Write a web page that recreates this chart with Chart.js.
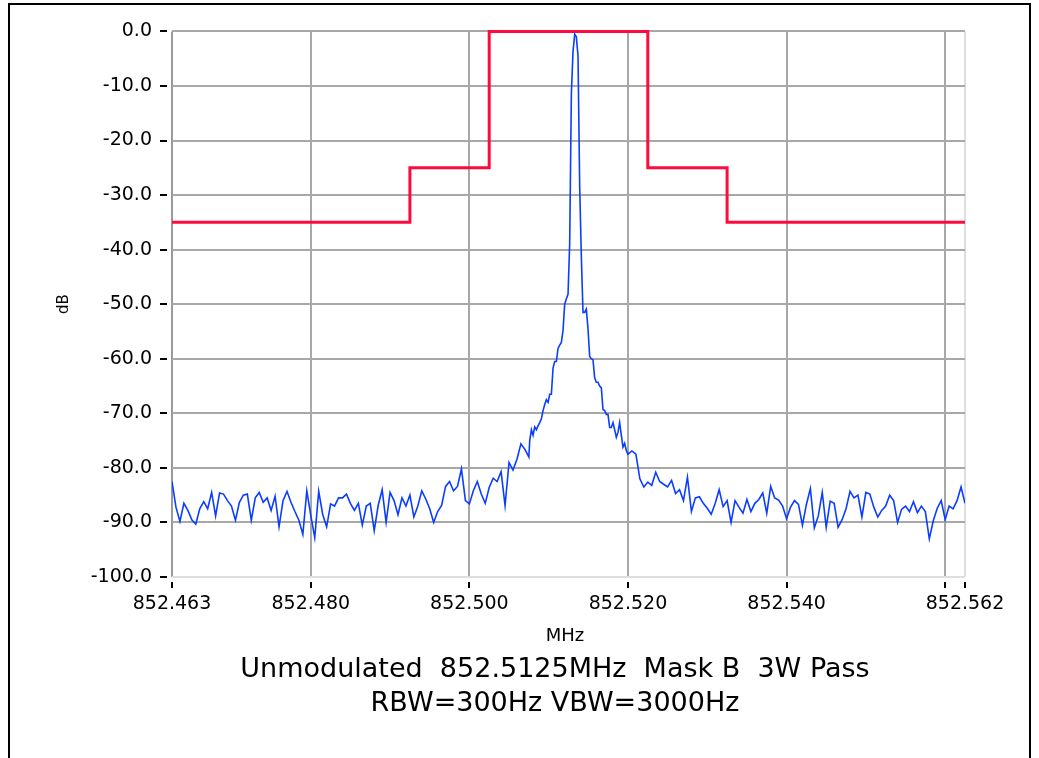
<!DOCTYPE html>
<html lang="en">
<head>
  <meta charset="utf-8">
  <script src="https://cdn.jsdelivr.net/npm/chart.js@4.4.0/dist/chart.umd.min.js"></script>
  <style>
    body {
      margin: 0;
      background: #fff;
      overflow: hidden;
    }
    #frame {
      position: absolute;
      left: 8px;
      top: 3px;
      width: 1019px;
      height: 800px;
      border: 2px solid #000;
    }
    #chart {
      position: absolute;
      left: 0;
      top: 0;
    }
  </style>
</head>
<body>
  <div id="frame"></div>
  <canvas id="chart" width="1039" height="758"></canvas>

  <script>
    const lowBandStart = 852.4625;   // MHz
    const lowBandStep = 0.0005;
    const lowBandDb = [
      -82.5, -87.2, -89.8, -86.5, -87.8, -89.5, -90.3, -87.5, -86.2, -87.5,
      -84.5, -88.8, -84.6, -84.8, -86.0, -87.0, -89.6, -86.3, -85.0, -84.8,
      -89.6, -85.5, -84.5, -86.3, -85.5, -87.8, -85.2, -90.8, -86.0, -84.3,
      -86.3, -88.0, -89.6, -92.2, -84.2, -88.7, -92.8, -84.3, -88.5, -90.8,
      -86.6, -87.0, -85.5, -85.5, -84.8, -86.5, -87.8, -86.5, -90.5, -87.0,
      -86.5, -91.5, -86.9, -84.0, -90.0, -84.5, -86.0, -88.6, -85.5, -87.0,
      -85.0, -89.0, -87.0, -84.2, -85.7, -87.5, -90.0, -88.0, -86.9, -83.4,
      -82.5, -84.2, -83.4, -80.2, -86.0, -86.6, -84.2, -82.5, -84.8, -86.5,
      -83.6, -81.9, -82.5, -80.7, -86.9, -79.0, -80.4, -78.4, -75.6, -76.6,
      -78.0
    ];

    const peakBandStart = 852.50761;
    const peakBandStep = 0.00021;
    const peakBandDb = [
      -75.0, -73.0, -74.0, -72.5, -73.0, -72.3, -71.7, -71.0, -69.5, -68.4,
      -67.5, -68.0, -66.5, -66.5, -61.7, -60.5, -60.5, -58.1, -57.5, -57.0,
      -54.8, -50.0, -49.0, -48.2, -38.9, -11.5, -3.7, -0.5, -1.0, -4.5,
      -28.3, -41.3, -51.5, -51.5, -50.9, -54.5, -59.6, -60.0, -60.2, -63.5,
      -64.3, -64.3, -65.0, -65.3, -69.3, -69.5, -70.2, -70.2, -72.6, -72.6,
      -71.7, -73.0, -74.4, -73.5, -71.7, -74.0, -76.2, -75.5, -76.8, -77.5
    ];

    const highBandStart = 852.5205;
    const highBandStep = 0.0005;
    const highBandDb = [
      -76.9, -77.5, -82.0, -83.5, -82.6, -83.2, -80.8, -82.5, -83.0, -83.5,
      -82.3, -84.7, -84.0, -86.0, -81.7, -88.0, -85.5, -85.3, -86.5, -87.4,
      -88.5, -86.5, -84.0, -87.1, -86.0, -90.0, -86.0, -87.2, -88.3, -85.8,
      -88.0, -86.5, -85.8, -84.6, -88.3, -83.4, -85.5, -85.9, -87.0, -89.3,
      -87.2, -86.0, -86.7, -90.5, -86.7, -83.8, -91.0, -88.8, -84.5, -90.9,
      -86.1, -86.5, -90.9, -89.5, -87.5, -84.3, -85.5, -85.0, -89.0, -84.5,
      -84.8, -87.2, -89.0, -87.8, -87.0, -85.0, -86.0, -90.0, -87.6, -87.0,
      -88.0, -86.2, -88.2, -87.0, -88.0, -93.0, -89.7, -87.4, -86.0, -89.5,
      -87.0, -87.5, -86.0, -83.5, -86.5
    ];

    // emission mask B
    const maskMHz = [852.4625, 852.4925, 852.4925, 852.5025, 852.5025, 852.5225, 852.5225, 852.5325, 852.5325, 852.5625];
    const maskDb = [-35, -35, -25, -25, 0, 0, -25, -25, -35, -35];

    // axes
    const xTickMHz = [852.4625, 852.48, 852.50, 852.52, 852.54, 852.56, 852.5625];
    const xTickLabels = ['852.463', '852.480', '852.500', '852.520', '852.540', '', '852.562'];
    const xTitle = 'MHz';
    const yTitle = 'dB';
    const captionLines = ['Unmodulated  852.5125MHz  Mask B  3W Pass', 'RBW=300Hz VBW=3000Hz'];

    const fontFamily = '"DejaVu Sans", Verdana, sans-serif';

    function band(start, step, values) {
      return values.map((v, i) => ({ x: Math.round((start + i * step) * 1e6) / 1e6, y: v }));
    }

    const tracePoints = band(lowBandStart, lowBandStep, lowBandDb)
      .concat(band(peakBandStart, peakBandStep, peakBandDb))
      .concat(band(highBandStart, highBandStep, highBandDb));
    const maskPoints = maskMHz.map((x, i) => ({ x: x, y: maskDb[i] }));

    // small black tick marks set off from the frame, plus the bottom texts
    const extras = {
      id: 'extras',
      afterDraw(chart) {
        const { ctx, chartArea: a, scales: { x, y } } = chart;
        ctx.save();
        ctx.strokeStyle = '#000';
        ctx.lineWidth = 2;
        ctx.beginPath();
        y.ticks.forEach(t => {
          const py = Math.round(y.getPixelForValue(t.value));
          ctx.moveTo(a.left - 12, py);
          ctx.lineTo(a.left - 5, py);
        });
        x.ticks.forEach(t => {
          const px = Math.round(x.getPixelForValue(t.value));
          ctx.moveTo(px, a.bottom + 5);
          ctx.lineTo(px, a.bottom + 11);
        });
        ctx.stroke();

        ctx.fillStyle = '#000';
        ctx.textAlign = 'center';
        ctx.textBaseline = 'alphabetic';
        ctx.font = '18px ' + fontFamily;
        ctx.fillText(xTitle, 565, 641);
        ctx.font = '27px ' + fontFamily;
        captionLines.forEach((line, i) => ctx.fillText(line, 555, 677 + i * 34));
        ctx.restore();
      }
    };

    new Chart(document.getElementById('chart'), {
      type: 'line',
      data: {
        datasets: [
          {
            label: 'Spectrum',
            data: tracePoints,
            borderColor: '#0a3dff',
            borderWidth: 1.6,
            pointRadius: 0,
            order: 1
          },
          {
            label: 'Mask',
            data: maskPoints,
            borderColor: '#ff0a3c',
            borderWidth: 3,
            pointRadius: 0,
            clip: 4,
            order: 2
          }
        ]
      },
      options: {
        responsive: false,
        animation: false,
        devicePixelRatio: 1,
        layout: { padding: { top: 24, right: 74, bottom: 0, left: 0 } },
        plugins: {
          legend: { display: false },
          tooltip: { enabled: false }
        },
        scales: {
          x: {
            type: 'linear',
            min: 852.4625,
            max: 852.5625,
            afterBuildTicks: axis => { axis.ticks = xTickMHz.map(v => ({ value: v })); },
            afterFit: axis => { axis.height = 181; },
            border: { display: false },
            grid: {
              drawTicks: false,
              lineWidth: 2,
              color: c => c.index === 0 ? '#9a9a9a' : (c.index === xTickMHz.length - 1 ? '#dedede' : '#a8a8a8')
            },
            ticks: {
              autoSkip: false,
              maxRotation: 0,
              padding: 16,
              color: '#000',
              font: { family: fontFamily, size: 19 },
              callback: (v, i) => xTickLabels[i]
            }
          },
          y: {
            min: -100,
            max: 0,
            afterFit: axis => { axis.width = 172; },
            border: { display: false },
            grid: {
              drawTicks: false,
              lineWidth: 2,
              color: c => c.tick.value === -100 ? '#dedede' : '#a8a8a8'
            },
            ticks: {
              stepSize: 10,
              padding: 20,
              color: '#000',
              font: { family: fontFamily, size: 19 },
              callback: v => v.toFixed(1)
            },
            title: {
              display: true,
              text: yTitle,
              color: '#000',
              font: { family: fontFamily, size: 15 },
              padding: { top: 55, bottom: 0 }
            }
          }
        }
      },
      plugins: [extras]
    });
  </script>
</body>
</html>
